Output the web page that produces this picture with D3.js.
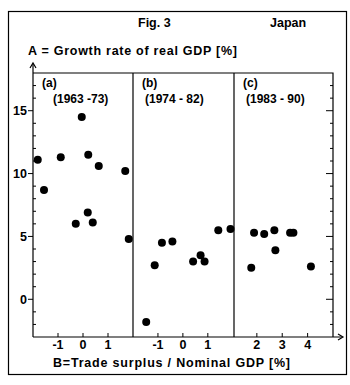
<!doctype html>
<html>
  <head>
    <meta charset="utf-8">
    <title>Fig. 3 Japan</title>
    <script src="https://d3js.org/d3.v7.min.js"></script>
    <style>
      body { margin: 0; background: #fff; }
      text { font-family: "Liberation Sans", Arial, sans-serif; font-weight: bold; fill: #000; }
    </style>
  </head>
  <body>
    <script>
      // panels and periods
      const panelNames = ['(a)', '(b)', '(c)'];
      const periods = ['(1963 -73)', '(1974 - 82)', '(1983 - 90)'];

      // B = trade surplus / nominal GDP, A = growth rate of real GDP
      const tradeA = [-1.81, -1.56, -0.89, -0.05, 0.21, 0.63, -0.29, 0.19, 0.39, 1.69, 1.83];
      const growthA = [11.1, 8.7, 11.3, 14.5, 11.5, 10.6, 6.0, 6.9, 6.1, 10.2, 4.8];
      const tradeB = [-1.47, -1.13, -0.84, -0.42, 0.41, 0.71, 0.87, 1.42, 1.91];
      const growthB = [-1.8, 2.7, 4.5, 4.6, 3.0, 3.5, 3.0, 5.5, 5.6];
      const tradeC = [1.78, 1.89, 2.29, 2.69, 2.73, 3.31, 3.44, 4.13];
      const growthC = [2.5, 5.3, 5.2, 5.5, 3.9, 5.3, 5.3, 2.6];

      const yTicks = [0, 5, 10, 15];
      const xTicksA = [-1, 0, 1];
      const xTicksB = [-1, 0, 1];
      const xTicksC = [2, 3, 4];

      const width = 350, height = 385;
      const pTop = 73, pBottom = 337, pLeft = 33, pRight = 333;

      const svg = d3.select('body').append('svg')
          .attr('width', width)
          .attr('height', height);

      // outer frame
      svg.append('rect')
          .attr('x', 8.5).attr('y', 11.5)
          .attr('width', 338).attr('height', 363)
          .attr('fill', 'none').attr('stroke', '#000').attr('stroke-width', 1.2);

      svg.append('text').attr('x', 138).attr('y', 27).attr('font-size', 12.5).text('Fig. 3');
      svg.append('text').attr('x', 270).attr('y', 27).attr('font-size', 12.5).text('Japan');
      svg.append('text').attr('x', 28).attr('y', 55).attr('font-size', 12.5)
          .attr('textLength', 209).text('A = Growth rate of real GDP [%]');

      const yScale = d3.scaleLinear().domain([-3, 18]).range([pBottom, pTop]);

      const panels = [
        {x: d3.scaleLinear().domain([-2, 2]).range([pLeft, 133]), b: tradeA, a: growthA, ticks: xTicksA},
        {x: d3.scaleLinear().domain([-2, 2.05]).range([133, 234]), b: tradeB, a: growthB, ticks: xTicksB},
        {x: d3.scaleLinear().domain([1.1, 5.0]).range([234, pRight]), b: tradeC, a: growthC, ticks: xTicksC}
      ];

      // plot frame (top and right sides)
      svg.append('path')
          .attr('d', `M${pLeft},${pTop}H${pRight}V${pBottom}`)
          .attr('fill', 'none').attr('stroke', '#000').attr('stroke-width', 1.2);

      // y axis with arrow
      svg.append('line')
          .attr('x1', pLeft).attr('x2', pLeft).attr('y1', pBottom).attr('y2', pTop - 9)
          .attr('stroke', '#000').attr('stroke-width', 1.2);
      svg.append('path')
          .attr('d', `M${pLeft - 3},${pTop - 5}L${pLeft},${pTop - 10}L${pLeft + 3},${pTop - 5}`)
          .attr('fill', 'none').attr('stroke', '#000').attr('stroke-width', 1.2);

      // x axis with arrow
      svg.append('line')
          .attr('x1', pLeft).attr('x2', pRight + 9).attr('y1', pBottom).attr('y2', pBottom)
          .attr('stroke', '#000').attr('stroke-width', 1.2);
      svg.append('path')
          .attr('d', `M${pRight + 5},${pBottom - 3}L${pRight + 10},${pBottom}L${pRight + 5},${pBottom + 3}`)
          .attr('fill', 'none').attr('stroke', '#000').attr('stroke-width', 1.2);

      // y ticks: minor every unit inward, major every 5 outward
      const minor = d3.range(-2, 18);
      const gy = svg.append('g').attr('stroke', '#000');
      gy.selectAll('.l').data(minor).enter().append('line')
          .attr('x1', pLeft).attr('x2', d => d % 5 === 0 ? pLeft - 5 : pLeft + 3)
          .attr('y1', d => yScale(d)).attr('y2', d => yScale(d));
      gy.selectAll('.r').data(minor).enter().append('line')
          .attr('x1', pRight).attr('x2', d => d % 5 === 0 ? pRight - 7 : pRight - 3)
          .attr('y1', d => yScale(d)).attr('y2', d => yScale(d));
      svg.selectAll('.ylab').data(yTicks).enter().append('text')
          .attr('x', 27).attr('y', d => yScale(d) + 4.5)
          .attr('text-anchor', 'end').attr('font-size', 12.5)
          .text(d => d);

      panels.forEach((p, i) => {
        const g = svg.append('g');
        // divider
        if (i > 0) {
          g.append('line')
              .attr('x1', p.x.range()[0]).attr('x2', p.x.range()[0])
              .attr('y1', pTop).attr('y2', pBottom)
              .attr('stroke', '#000').attr('stroke-width', 1.2);
        }
        g.selectAll('.t').data(p.ticks).enter().append('line')
            .attr('x1', d => p.x(d)).attr('x2', d => p.x(d))
            .attr('y1', pBottom).attr('y2', pBottom - 4)
            .attr('stroke', '#000');
        g.selectAll('.tl').data(p.ticks).enter().append('text')
            .attr('x', d => p.x(d)).attr('y', 349)
            .attr('text-anchor', 'middle').attr('font-size', 12.5)
            .text(d => d);
        const x0 = p.x.range()[0];
        g.append('text').attr('x', x0 + 9).attr('y', 87).attr('font-size', 12).text(panelNames[i]);
        g.append('text').attr('x', x0 + (i === 0 ? 20 : 12)).attr('y', 103).attr('font-size', 12).text(periods[i]);
        g.selectAll('circle').data(p.b.map((b, k) => [b, p.a[k]])).enter().append('circle')
            .attr('cx', d => p.x(d[0]))
            .attr('cy', d => yScale(d[1]))
            .attr('r', 4)
            .attr('fill', '#000');
      });

      svg.append('text').attr('x', 53).attr('y', 367).attr('font-size', 12.5)
          .attr('textLength', 237).text('B=Trade surplus / Nominal GDP [%]');
    </script>
  </body>
</html>
